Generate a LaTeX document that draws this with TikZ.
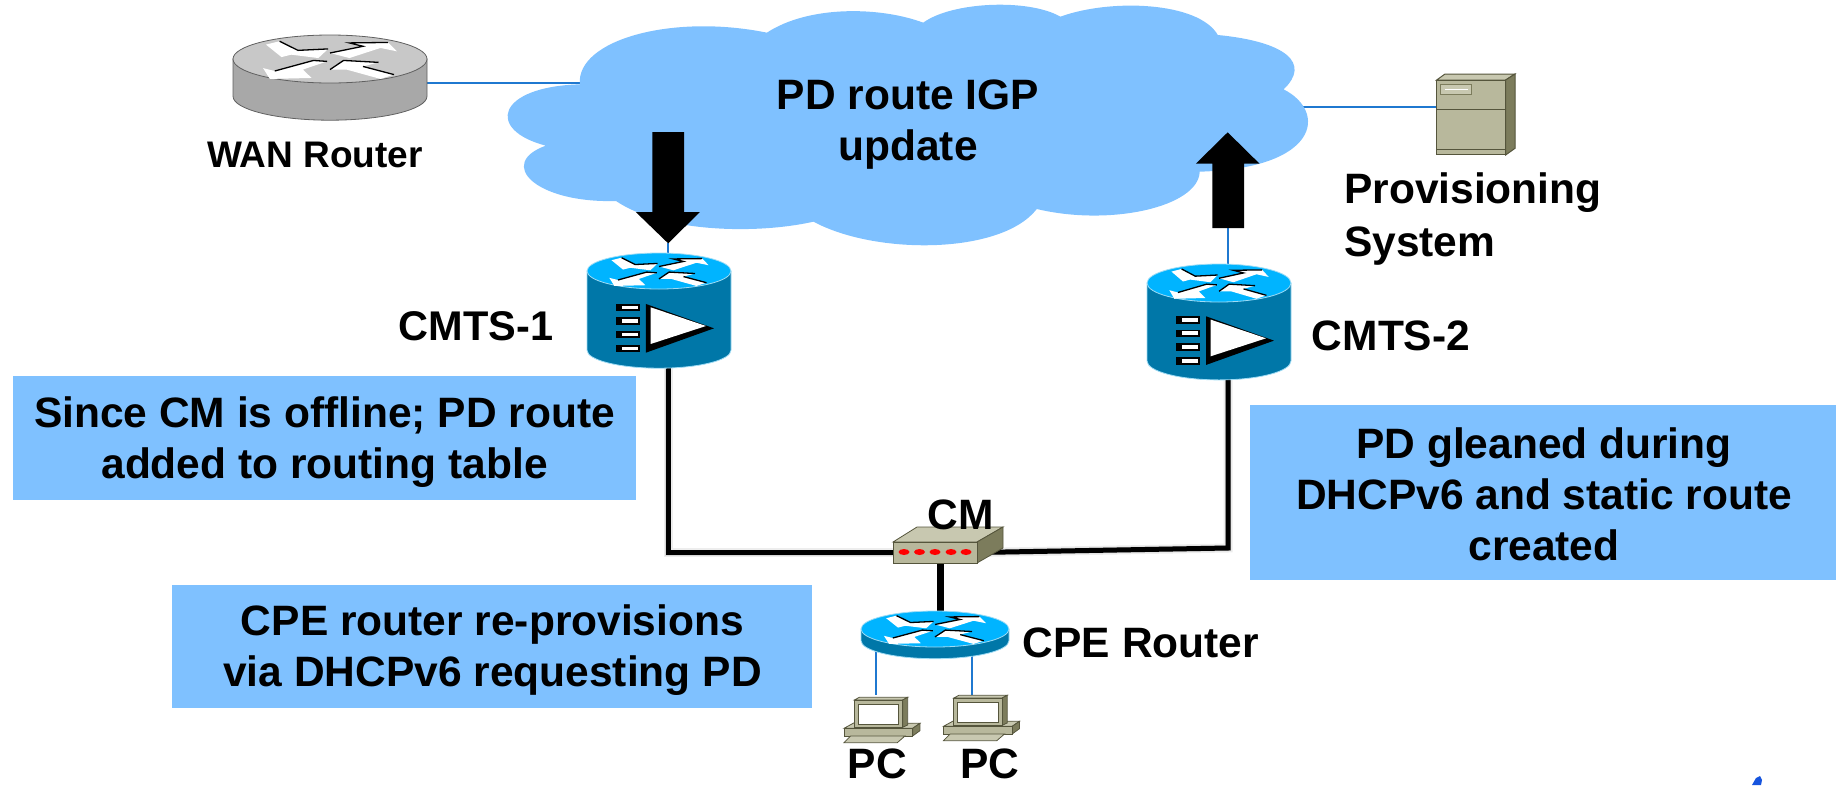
\documentclass[tikz,border=0pt]{standalone}
\usepackage{fontspec}
\setmainfont{Liberation Sans}
\definecolor{cloudblue}{HTML}{7FC1FF}
\definecolor{linkblue}{HTML}{1F78D0}
\definecolor{rtop}{HTML}{00B4FF}
\definecolor{rside}{HTML}{0077A8}
\definecolor{rrim}{HTML}{9FDCF5}
\definecolor{gtop}{HTML}{C8C8C8}
\definecolor{gside}{HTML}{A8A8A8}
\definecolor{grim}{HTML}{606060}
\definecolor{khaki}{HTML}{B8B89C}
\definecolor{khakilight}{HTML}{C8C8B0}
\definecolor{khakidark}{HTML}{7C7C5C}
\definecolor{khakiline}{HTML}{55553C}
\tikzset{
  lbl/.style={font=\fontsize{42.5}{51}\selectfont\bfseries,align=center,inner sep=0pt,text=black},
  lblsmall/.style={font=\fontsize{37}{44}\selectfont\bfseries,align=center,inner sep=0pt,text=black},
  notebox/.style={fill=cloudblue,minimum width=#1,inner sep=0pt,draw=none},
  device/.style={inner sep=0pt,outer sep=0pt,draw=none,fill=none},
  bluelink/.style={draw=linkblue,line width=2pt},
  wire/.style={draw=black,line width=5pt,line join=miter},
  wireshadowa/.style={draw=black!7,line width=9pt},
  wireshadowb/.style={draw=black!16,line width=6pt},
  bigarrow/.style={fill=black,draw=none}
}
% router: cx, cy(top ellipse), rx, ry, side height, top colour, side colour, rim colour
\newcommand{\routericon}[8]{%
  \begin{scope}[shift={(#1,#2)},x=#3pt,y=-#4pt]
    \filldraw[fill=#7,draw=#8,line width=.8pt] (-1,0) -- (-1,#5) arc[start angle=180,end angle=360,x radius=1,y radius=-1] -- (1,0) -- cycle;
    \filldraw[fill=#6,draw=#8,line width=.8pt] (0,0) ellipse[x radius=1,y radius=1];
    \fill[white] (-.66,-.6)--(-.52,-.74)--(-.33,-.36)--(-.02,-.42)--(-.12,-.04)--(-.4,-.18)--(-.5,-.08)--cycle;
    \fill[white] (0,-.25)--(.34,-.53)--(.2,-.67)--(.6,-.69)--(.69,-.32)--(.52,-.46)--(.2,-.04)--cycle;
    \fill[white] (-.69,.38)--(-.57,.5)--(-.17,.06)--(-.03,.1)--(-.28,.44)--(-.19,.79)--(-.62,.83)--cycle;
    \fill[white] (0,.44)--(.14,.06)--(.5,.14)--(.34,.31)--(.66,.65)--(.52,.83)--(.17,.44)--cycle;
    \draw[black,line width=1.3pt] (-.52,-.74)--(-.33,-.36)--(-.02,-.42);
    \draw[black,line width=1.3pt] (0,-.25)--(.34,-.53)--(.2,-.67)--(.6,-.69);
    \draw[black,line width=1.3pt] (-.57,.5)--(-.17,.06)--(-.03,.1);
    \draw[black,line width=1.3pt] (0,.44)--(.14,.06)--(.5,.14);
    \draw[black,line width=1.3pt] (.34,.31)--(.66,.65);
  \end{scope}}
\newcommand{\ampicon}[2]{%
  \begin{scope}[shift={(#1,#2)},x=.3333pt,y=-.3333pt]
    \foreach \yy in {222,262,303,345}{
      \fill[black] (168,\yy) rectangle (240,\yy+22);
      \fill[white] (185,\yy+5) rectangle (233,\yy+16);
    }
    \fill[black] (258,222)--(462,295)--(258,368)--cycle;
    \fill[white] (272,232)--(438,288)--(272,342)--cycle;
  \end{scope}}
\newcommand{\pcicon}[2]{%
  \begin{scope}[shift={(#1,#2)},x=.3333pt,y=-.3333pt,draw=khakiline,line width=.8pt]
    \filldraw[fill=khakilight] (72,685)--(103,668)--(300,670)--(278,685)--cycle;
    \filldraw[fill=khakidark] (278,685)--(300,670)--(300,692)--(278,708)--cycle;
    \filldraw[fill=khaki] (72,685) rectangle (278,708);
    \filldraw[fill=khakilight] (92,708)--(255,708)--(232,728)--(72,728)--cycle;
    \filldraw[fill=khakilight] (103,600)--(118,592)--(263,592)--(248,600)--cycle;
    \filldraw[fill=khakidark] (248,600)--(263,592)--(263,675)--(248,682)--cycle;
    \filldraw[fill=khaki] (103,600) rectangle (248,682);
    \filldraw[fill=white] (115,613) rectangle (236,672);
  \end{scope}}
\begin{document}
\begin{tikzpicture}[x=1pt,y=-1pt]
\useasboundingbox (0,0) rectangle (1837,785);
% device placeholders
\node[device,minimum width=194pt,minimum height=84pt] (wan) at (330,77) {};
\node[device,minimum width=144pt,minimum height=114pt] (cmts1) at (659,310) {};
\node[device,minimum width=144pt,minimum height=116pt] (cmts2) at (1219,322) {};
\node[device,minimum width=84pt,minimum height=21pt] (cm) at (935,552.5) {};
\node[device,minimum width=148pt,minimum height=46pt] (cpe) at (935,635) {};
\node[device,minimum width=69pt,minimum height=75pt] (server) at (1471.5,105.5) {};
\node[device,minimum width=40pt,minimum height=10pt] (pc1) at (876,700) {};
\node[device,minimum width=40pt,minimum height=10pt] (pc2) at (972,700) {};
\coordinate (wanE) at (420,83);
\coordinate (cloudW) at (590,83);
\coordinate (cloudE) at (1300,107);
\coordinate (tipL) at (668,243);
\coordinate (tailR) at (1228,228);
\coordinate (dropL) at (668,360);
\coordinate (dropR) at (1228,370);
\coordinate (busR) at (1228,548);
% connector shadows
\draw[wireshadowa,shift={(1,4)}] (dropL) |- (cm.west);
\draw[wireshadowa,shift={(2,5)}] (dropR) -- (busR) -- (cm.east);
\draw[wireshadowb,shift={(1,3)}] (dropL) |- (cm.west);
\draw[wireshadowb,shift={(1,3)}] (dropR) -- (busR) -- (cm.east);
% connectors
\draw[bluelink] (wanE) -- (cloudW);
\draw[bluelink] (cloudE) -- (server.west |- cloudE);
\draw[bluelink] (tipL) -- (tipL |- cmts1.north);
\draw[bluelink] (tailR) -- (tailR |- cmts2.north);
\draw[bluelink] (pc1.south |- cpe.center) -- (pc1.north);
\draw[bluelink] (pc2.south |- cpe.center) -- (pc2.north);
\draw[wire] (dropL) |- (cm.west);
\draw[wire] (dropR) -- (busR) -- (cm.east);
\draw[draw=black,line width=7pt] ([xshift=5pt]cm.south) -- ([xshift=5pt]cpe.north);
% cloud and arrows
\begin{scope}[shift={(480,0)},x=.54855pt,y=-.33333pt]
  \fill[cloudblue] (523,98) .. controls (600,15) and (730,20) .. (808,68)
    .. controls (860,5) and (1000,-5) .. (1058,50)
    .. controls (1150,-5) and (1310,5) .. (1345,105)
    .. controls (1470,125) and (1515,190) .. (1465,268)
    .. controls (1545,335) and (1530,505) .. (1312,515)
    .. controls (1310,620) and (1150,680) .. (1015,627)
    .. controls (950,765) and (720,765) .. (608,665)
    .. controls (500,705) and (330,695) .. (248,603)
    .. controls (100,610) and (30,490) .. (120,437)
    .. controls (10,390) and (30,260) .. (182,253)
    .. controls (175,120) and (350,40) .. (523,98) -- cycle;
  \fill[bigarrow] (314,396)--(372,396)--(372,636)--(401,636)--(343,730)--(284,636)--(314,636)--cycle;
  \fill[bigarrow] (1335,684)--(1393,684)--(1393,491)--(1421,491)--(1363,397)--(1305,491)--(1335,491)--cycle;
\end{scope}
% devices
\routericon{330}{59}{97}{24}{1.55}{gtop}{gside}{grim}
\routericon{659}{271}{72}{18}{4.4}{rtop}{rside}{rrim}
\ampicon{560}{230}
\routericon{1219}{283}{72}{19}{4.1}{rtop}{rside}{rrim}
\ampicon{1120}{242.3}
\routericon{935}{629}{74}{18}{.65}{rtop}{rside}{rrim}
% CM
\filldraw[fill=khakilight,draw=khakiline,line width=.8pt] (893,542)--(917,527)--(1003,527)--(977,542)--cycle;
\filldraw[fill=khakidark,draw=khakiline,line width=.8pt] (977,542)--(1003,527)--(1003,548)--(977,563)--cycle;
\filldraw[fill=khaki,draw=khakiline,line width=.8pt] (893,542) rectangle (977,563);
\foreach \xx in {904,919.5,935,951,966}{\fill[red] (\xx,552) ellipse[x radius=5.5,y radius=3];}
% server
\begin{scope}[shift={(1400,50)},x=.3333pt,y=-.3333pt,draw=khakiline,line width=1pt]
  \filldraw[fill=khakilight] (110,90)--(135,72)--(345,72)--(317,90)--cycle;
  \filldraw[fill=khakidark] (317,90)--(345,72)--(345,295)--(317,315)--cycle;
  \filldraw[fill=khaki] (110,90) rectangle (317,315);
  \draw (110,180)--(317,180);
  \draw (110,298)--(317,298);
  \filldraw[fill=khakilight,draw=khakidark] (122,103) rectangle (215,133);
  \draw[white] (135,118)--(205,118);
\end{scope}
\pcicon{820}{500}
\pcicon{919.5}{498}
% boxes
\node[notebox=623pt,minimum height=124pt] (boxa) at (324.5,438) {};
\node[notebox=586pt,minimum height=175pt] (boxb) at (1543,492.5) {};
\node[notebox=640pt,minimum height=123pt] (boxc) at (492,646.5) {};
\node[lbl] (boxatext) at (324.5,442) {Since CM is offline; PD route\\added to routing table};
\node[lbl] (boxbtext) at (1544,494) {PD gleaned during\\DHCPv6 and static route\\created};
\node[lbl] (boxctext) at (492.5,650) {CPE router re-provisions\\via DHCPv6 requesting PD};
% labels
\node[lbl] (cloudtext) at (908,124.5) {PD route IGP\\update};
\node[lblsmall] (wanlbl) at (315,155) {WAN Router};
\node[lbl,align=left,anchor=west,font=\fontsize{42.5}{53}\selectfont\bfseries] (provlbl) at (1344,219) {Provisioning\\System};
\node[lbl,font=\fontsize{41.5}{50}\selectfont\bfseries] (cmts1lbl) at (476,326) {CMTS-1};
\node[lbl] (cmts2lbl) at (1391,336) {CMTS-2};
\node[lbl] (cmlbl) at (961,515) {CM};
\node[lbl] (cpelbl) at (1141,643) {CPE Router};
\node[lbl] (pc1lbl) at (877.5,764) {PC};
\node[lbl] (pc2lbl) at (990,764) {PC};
% corner fragment
\fill[linkblue!70!blue] (1752,785)--(1756,778)--(1760,776)--(1762,780)--(1761,785)--cycle;
\end{tikzpicture}
\end{document}
